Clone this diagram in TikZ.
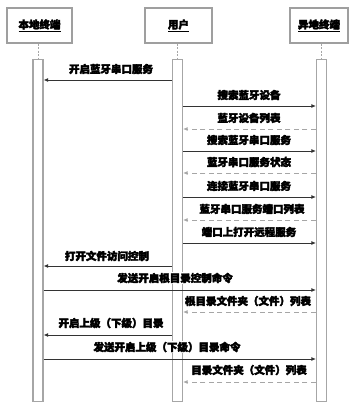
\documentclass[tikz,border=0pt]{standalone}
\usepackage{fontspec}
\setmainfont{Noto Sans CJK SC}[FakeBold=3.5]
\usetikzlibrary{arrows.meta}
\tikzset{
  head/.style={draw=gray!75, line width=1.2pt, fill=white, minimum height=35pt, inner sep=0pt, font=\fontsize{10.5}{12}\selectfont\bfseries},
  bar/.style={draw=gray!70, line width=1.2pt, fill=white, inner sep=0pt, minimum width=10pt, minimum height=342pt, anchor=north},
  life/.style={draw=gray!70, line width=0.8pt, dash pattern=on 2pt off 1.5pt},
  msg/.style={draw=gray!40!black, line width=0.9pt, -{Latex[length=4.5pt,width=4pt]}},
  ret/.style={msg, dash pattern=on 5pt off 3.5pt, draw=gray!70},
  lbl/.style={fill=white, inner sep=1pt, font=\fontsize{10.5}{12}\selectfont\bfseries}
}
\begin{document}
\begin{tikzpicture}[x=1pt,y=-1pt]
\useasboundingbox (0,0) rectangle (352,403);
% heads
\node[head, minimum width=65pt] (hl) at (39.5,25.5) {\underline{本地终端}};
\node[head, minimum width=67pt] (hu) at (178.5,25.5) {\underline{用户}};
\node[head, minimum width=58pt] (hr) at (319,25.5) {\underline{异地终端}};
% bars
\node[bar] (lb) at (38,59) {};
\node[bar] (ub) at (177.5,59) {};
\node[bar] (rb) at (321.5,59) {};
\draw[life] (hl.south -| lb.north) -- (lb.north);
\draw[life] (hu.south -| ub.north) -- (ub.north);
\draw[life] (hr.south -| rb.north) -- (rb.north);
% message rows
\foreach \n/\y in {1/80,2/106,3/129,4/151,5/173,6/197,7/220,8/243,9/266,10/290,11/312,12/335,13/359,14/382}
  \coordinate (m\n) at (0,\y);
% 1
\draw[msg] (ub.west |- m1) -- (lb.east |- m1);
\node[lbl] (t1) at (111,69) {开启蓝牙串口服务};
% 2
\draw[msg] (ub.east |- m2) -- (rb.west |- m2);
\node[lbl] (t2) at (249,95) {搜索蓝牙设备};
% 3
\draw[ret] (rb.west |- m3) -- (ub.east |- m3);
\node[lbl] (t3) at (249,118) {蓝牙设备列表};
% 4
\draw[msg] (ub.east |- m4) -- (rb.west |- m4);
\node[lbl] (t4) at (249,140) {搜索蓝牙串口服务};
% 5
\draw[ret] (rb.west |- m5) -- (ub.east |- m5);
\node[lbl] (t5) at (249,162) {蓝牙串口服务状态};
% 6
\draw[msg] (ub.east |- m6) -- (rb.west |- m6);
\node[lbl] (t6) at (249,186) {连接蓝牙串口服务};
% 7
\draw[ret] (rb.west |- m7) -- (ub.east |- m7);
\node[lbl] (t7) at (252,209) {蓝牙串口服务端口列表};
% 8
\draw[msg] (ub.east |- m8) -- (rb.west |- m8);
\node[lbl] (t8) at (249,232) {端口上打开远程服务};
% 9
\draw[msg] (ub.west |- m9) -- (lb.east |- m9);
\node[lbl] (t9) at (107,256) {打开文件访问控制};
% 10
\draw[msg] (lb.east |- m10) -- (rb.west |- m10);
\node[lbl] (t10) at (175,278) {发送开启根目录控制命令};
% 11
\draw[ret] (rb.west |- m11) -- (ub.east |- m11);
\node[lbl] (t11) at (248,301) {根目录文件夹（文件）列表};
% 12
\draw[msg] (ub.west |- m12) -- (lb.east |- m12);
\node[lbl] (t12) at (111,323) {开启上级（下级）目录};
% 13
\draw[msg] (lb.east |- m13) -- (rb.west |- m13);
\node[lbl] (t13) at (167,347) {发送开启上级（下级）目录命令};
% 14
\draw[ret] (rb.west |- m14) -- (ub.east |- m14);
\node[lbl] (t14) at (249,370) {目录文件夹（文件）列表};
\end{tikzpicture}
\end{document}
